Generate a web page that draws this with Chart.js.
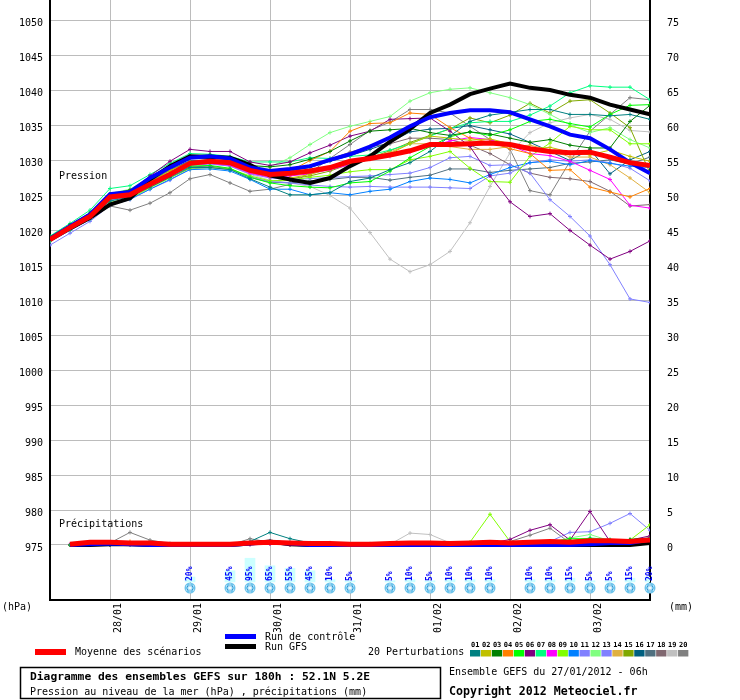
<!DOCTYPE html>
<html><head><meta charset="utf-8">
<script src="https://cdn.jsdelivr.net/npm/chart.js@4"></script>
<style>html,body{margin:0;padding:0;background:#fff;}canvas{display:block;}</style>
</head><body>
<canvas id="c" width="740" height="700"></canvas>
<script>
// ---------- DATA ----------
const dayHours = [18, 42, 66, 90, 114, 138, 162];
const dayLabels = ['28/01', '29/01', '30/01', '31/01', '01/02', '02/02', '03/02'];
const hpaTicks = [975, 980, 985, 990, 995, 1000, 1005, 1010, 1015, 1020, 1025, 1030, 1035, 1040, 1045, 1050];
const mmTicks = [0, 5, 10, 15, 20, 25, 30, 35, 40, 45, 50, 55, 60, 65, 70, 75];
const stepHours = 6;

const meanP = [1018.7,1020.4,1022.0,1024.8,1025.1,1026.6,1028.0,1029.6,1029.9,1029.7,1028.6,1028.0,1028.2,1028.5,1029.0,1029.9,1030.3,1030.8,1031.4,1032.3,1032.3,1032.4,1032.5,1032.3,1031.7,1031.3,1031.1,1031.2,1030.5,1029.7,1029.3];
const ctrlP = [1018.8,1020.6,1022.3,1025.2,1025.5,1027.5,1029.0,1030.4,1030.6,1030.3,1029.0,1028.5,1028.8,1029.2,1030.1,1030.9,1032.0,1033.3,1034.9,1036.2,1036.8,1037.2,1037.2,1036.9,1035.9,1034.9,1033.7,1033.2,1031.6,1029.7,1028.2];
const gfsP  = [1018.7,1020.3,1021.8,1023.7,1024.6,1027.3,1029.2,1030.6,1030.5,1030.4,1029.4,1027.9,1027.3,1026.8,1027.5,1029.2,1030.6,1032.7,1034.5,1036.8,1038.0,1039.5,1040.3,1041.0,1040.4,1040.1,1039.4,1039.0,1038.0,1037.3,1036.6];

const p01 = [1018.6,1020.3,1021.9,1024.2,1024.8,1026.2,1027.6,1029.0,1029.0,1028.7,1027.4,1026.2,1025.1,1025.1,1025.4,1027.0,1027.5,1028.7,1029.7,1031.3,1033.5,1035.6,1036.5,1036.9,1037.3,1037.3,1036.6,1036.6,1036.4,1036.6,1035.9];
const p02 = [1018.9,1020.6,1022.2,1024.8,1025.3,1026.9,1028.6,1029.8,1030.1,1029.7,1028.7,1027.7,1027.5,1028.0,1028.9,1029.6,1030.2,1031.0,1032.4,1033.5,1033.2,1032.9,1033.1,1032.4,1031.6,1031.9,1031.2,1030.8,1031.5,1030.6,1029.9];
const p03 = [1019.1,1020.8,1022.5,1025.2,1025.8,1027.5,1029.2,1030.6,1030.8,1030.5,1029.3,1029.1,1029.4,1030.2,1031.3,1032.8,1034.2,1034.4,1034.6,1034.0,1033.6,1034.1,1033.8,1033.2,1032.6,1033.0,1032.2,1031.8,1031.8,1035.6,1037.9];
const p04 = [1018.8,1020.5,1022.3,1025.0,1025.7,1027.3,1029.0,1030.4,1030.5,1030.1,1028.9,1028.6,1028.5,1030.0,1031.3,1034.2,1035.3,1035.4,1036.8,1036.6,1034.7,1033.2,1032.6,1031.7,1031.0,1028.6,1028.7,1026.2,1025.5,1024.8,1026.0];
const p05 = [1018.7,1020.4,1022.0,1024.5,1025.0,1026.5,1027.9,1029.2,1029.3,1028.9,1027.6,1026.8,1026.4,1026.2,1026.1,1026.8,1027.0,1028.5,1030.4,1032.0,1033.4,1034.1,1033.6,1034.4,1035.6,1035.9,1035.3,1034.8,1036.6,1037.9,1038.0];
const p06 = [1019.0,1020.7,1022.4,1025.1,1025.6,1027.8,1029.9,1031.6,1031.3,1031.3,1029.8,1029.3,1029.8,1031.1,1032.2,1033.5,1034.2,1035.9,1036.0,1036.1,1034.2,1032.0,1027.8,1024.1,1022.0,1022.4,1020.0,1017.9,1015.9,1017.0,1018.5];
const p07 = [1019.2,1021.0,1022.9,1026.0,1026.4,1028.0,1029.6,1031.0,1030.9,1030.6,1029.8,1029.8,1029.8,1030.4,1030.3,1030.6,1030.8,1031.5,1032.4,1033.5,1034.6,1035.4,1035.6,1035.6,1036.5,1037.8,1039.7,1040.7,1040.5,1040.5,1038.7];
const p08 = [1018.8,1020.5,1022.1,1024.6,1025.0,1026.6,1028.1,1029.4,1029.6,1029.3,1028.2,1027.6,1027.8,1028.1,1028.7,1029.4,1030.2,1030.6,1031.2,1032.0,1032.8,1033.3,1033.0,1032.2,1031.0,1030.7,1029.9,1028.6,1027.3,1023.6,1023.2];
const p09 = [1018.5,1020.1,1021.7,1024.0,1024.6,1026.1,1027.5,1028.9,1029.0,1028.8,1027.8,1027.1,1027.2,1027.6,1027.9,1028.4,1028.7,1028.7,1030.1,1030.6,1031.3,1028.9,1027.0,1026.9,1030.6,1032.5,1034.9,1034.4,1034.4,1032.4,1032.4];
const p10 = [1018.4,1020.0,1021.6,1023.8,1024.5,1025.9,1027.3,1028.7,1028.8,1028.5,1027.3,1025.9,1025.9,1025.1,1025.4,1025.1,1025.6,1025.9,1027.0,1027.5,1027.3,1026.8,1028.0,1029.0,1029.7,1029.9,1029.4,1030.0,1029.6,1029.2,1029.0];
const p11 = [1017.9,1019.6,1021.3,1023.6,1024.4,1025.9,1027.2,1028.8,1029.0,1028.7,1027.7,1027.0,1026.8,1026.5,1026.3,1026.2,1026.3,1026.2,1026.2,1026.2,1026.1,1026.0,1027.8,1028.2,1029.7,1030.1,1029.9,1030.1,1029.7,1028.9,1027.1];
const p12 = [1019.0,1020.6,1022.4,1025.3,1025.9,1027.6,1029.3,1030.6,1030.7,1030.4,1029.1,1029.1,1030.4,1032.3,1034.0,1034.9,1035.6,1036.3,1038.5,1039.7,1040.2,1040.4,1039.7,1039.0,1038.0,1036.6,1035.1,1034.0,1034.7,1033.0,1031.8];
const p13 = [1018.6,1020.2,1021.8,1024.3,1024.9,1026.4,1027.9,1029.3,1029.5,1029.2,1028.1,1027.5,1027.3,1027.4,1027.6,1027.7,1027.8,1028.0,1028.2,1029.0,1030.4,1030.6,1029.3,1029.4,1028.2,1024.4,1022.0,1019.2,1015.1,1010.2,1009.7];
const p14 = [1018.7,1020.4,1022.0,1024.6,1025.2,1026.7,1028.3,1029.5,1029.7,1029.4,1028.4,1027.8,1027.9,1028.3,1028.8,1029.6,1030.4,1031.2,1032.4,1032.4,1032.0,1031.6,1031.6,1032.0,1032.2,1031.5,1030.5,1030.5,1029.4,1027.5,1025.4];
const p15 = [1018.8,1020.5,1022.1,1024.7,1025.3,1026.8,1028.4,1029.6,1029.8,1029.5,1028.3,1027.6,1027.4,1027.8,1028.5,1029.5,1030.4,1031.4,1032.6,1033.6,1034.5,1036.1,1035.4,1036.5,1038.2,1036.8,1038.5,1038.7,1036.8,1034.7,1028.2];
const p16 = [1018.9,1020.6,1022.3,1024.9,1025.4,1027.0,1028.6,1029.9,1030.1,1029.9,1028.8,1028.3,1028.5,1029.0,1029.9,1030.7,1031.6,1032.6,1034.1,1034.5,1034.6,1035.0,1034.4,1033.8,1032.6,1031.3,1030.0,1031.6,1028.1,1030.1,1031.3];
const p17 = [1018.6,1020.3,1021.9,1024.4,1024.9,1026.4,1027.8,1029.1,1029.2,1028.8,1027.6,1026.9,1026.8,1027.1,1027.3,1027.6,1027.6,1027.2,1027.6,1027.9,1028.8,1028.8,1028.3,1028.6,1028.8,1029.0,1029.6,1029.8,1030.1,1029.5,1030.5];
const p18 = [1018.9,1020.5,1022.2,1024.9,1025.5,1027.1,1028.7,1030.0,1030.1,1029.8,1028.8,1028.4,1028.7,1029.2,1030.2,1031.2,1032.0,1032.4,1033.2,1033.2,1033.0,1032.2,1031.0,1029.4,1028.2,1027.6,1027.4,1027.0,1025.6,1023.5,1023.7];
const p19 = [1018.7,1020.4,1022.0,1024.5,1025.0,1026.6,1028.0,1029.4,1029.6,1029.2,1028.0,1027.2,1026.8,1026.3,1025.0,1023.2,1019.7,1015.9,1014.1,1015.1,1017.0,1021.1,1026.3,1031.1,1034.0,1035.4,1036.1,1036.6,1035.9,1034.3,1034.1];
const p20 = [1018.5,1020.1,1021.6,1023.5,1022.9,1023.9,1025.4,1027.4,1028.0,1026.8,1025.6,1025.9,1026.6,1028.3,1030.3,1032.3,1034.3,1035.5,1037.3,1037.3,1036.8,1034.9,1033.0,1031.6,1025.7,1025.1,1029.9,1034.2,1036.6,1039.0,1038.7];

// precipitation (mm per 6h), from +6h to +180h
const meanR = [0.1,0.4,0.4,0.3,0.3,0.1,0.1,0.1,0.1,0.3,0.4,0.3,0.2,0.2,0.1,0.1,0.2,0.3,0.3,0.2,0.3,0.4,0.3,0.4,0.5,0.4,0.6,0.6,0.5,0.7];
const ctrlR = [0,0.1,0.2,0.1,0,0,0,0,0,0.2,0.4,0.2,0,0,0,0,0,0,0,0,0,0,0,0,0,0,0.1,0.3,0.3,0.8];
const gfsR  = [0,0,0.1,0.1,0,0,0,0,0,0.2,0.5,0.1,0,0,0,0,0,0,0,0,0,0,0,0,0,0,0,0,0,0.3];
const r01 = [0,0.2,0.1,0.2,0,0,0,0,0,0.5,1.8,0.9,0.3,0.3,0,0,0,0,0,0,0,0,0,0,0.1,0.3,0.6,0.4,0.3,0.6];
const r02 = [0,0.3,0.2,0.3,0.1,0,0,0,0,0.3,0.4,0.3,0,0,0,0,0,0,0,0,0.2,0.3,0.2,0.1,0.2,0.5,0.7,0.5,0.3,0.9];
const r03 = [0,0.2,0.1,0.1,0,0,0,0,0,0.2,0.3,0.2,0,0,0,0,0,0,0,0,0,0.1,0,0,0.2,0.6,0.8,0.6,0.8,1.0];
const r04 = [0,0.4,0.1,0.5,0.2,0,0,0,0,0.2,0.3,0.1,0,0,0,0,0,0,0,0,0,0.2,0.3,0.1,0.2,0.3,0.4,0.3,0.5,0.7];
const r05 = [0,0.1,0.1,0.2,0,0,0,0,0,0.2,0.3,0.2,0,0,0,0,0,0,0,0,0.1,0.2,0.2,0.3,0.4,0.9,0.9,0.7,0.7,0.8];
const r06 = [0,0.1,0.1,0.2,0,0,0,0,0,0.1,0.2,0.1,0,0,0,0,0,0,0,0,0,0.2,0.8,2.1,2.9,0.7,4.8,0.5,0.7,1.3];
const r07 = [0,0.2,0.2,0.2,0,0,0,0,0,0.2,0.4,0.2,0,0,0,0,0,0,0,0,0,0,0,0.1,0.2,0.6,1.0,0.8,0.4,0.6];
const r08 = [0.1,0.2,0.1,0.1,0,0,0,0,0,0.1,0.2,0.1,0,0,0,0,0,0,0,0,0,0.2,0.3,0.2,0.3,0.4,0.5,0.3,0.3,0.5];
const r09 = [0,0.2,0.2,0.2,0,0,0,0,0,0.2,0.3,0.2,0,0,0,0,0,0,0,0,0.4,4.4,0.5,0.3,0.2,0.4,0.6,0.5,0.7,2.9];
const r10 = [0,0.1,0.1,0.1,0,0,0,0,0,0.3,0.6,0.3,0.1,0,0,0,0,0,0,0,0,0.1,0,0,0.1,0.2,0.3,0.2,0.3,0.5];
const r11 = [0,0.2,0.1,0.2,0,0,0,0,0,0.2,0.3,0.2,0,0,0,0,0,0,0,0,0.1,0.3,0.2,0.1,0.2,0.5,0.7,0.5,0.4,0.6];
const r12 = [0,0.1,0.2,0.2,0,0,0,0,0,0.2,0.4,0.2,0,0,0,0,0,0,0,0,0,0.1,0.1,0.2,0.4,1.0,1.5,0.6,0.5,0.8];
const r13 = [0,0.1,0.1,0.1,0,0,0,0,0,0.1,0.2,0.1,0,0,0,0,0,0,0,0,0,0.1,0.1,0.1,0.5,1.8,1.9,3.1,4.5,2.1];
const r14 = [0,0.3,0.2,0.3,0.1,0,0,0,0,0.2,0.3,0.2,0,0,0,0,0,0,0,0,0,0.1,0.1,0.1,0.2,0.3,0.4,0.5,0.4,0.6];
const r15 = [0,0.2,0.1,0.2,0,0,0,0,0,0.2,0.3,0.2,0,0,0,0,0,0,0,0,0,0.1,0.2,0.2,0.3,0.5,0.6,0.4,0.4,0.9];
const r16 = [0,0.1,0.1,0.1,0,0,0,0,0,0.2,0.4,0.2,0,0,0,0,0,0,0,0,0,0,0.1,0.1,0.2,0.4,0.5,0.3,0.3,0.6];
const r17 = [0,0.1,0.1,0.2,0,0,0,0,0,0.3,0.3,0.2,0,0,0,0,0,0,0,0,0,0,0,0.1,0.1,0.3,0.2,0.2,0.2,0.4];
const r18 = [0,0.2,0.1,0.2,0,0,0,0,0,0.2,0.3,0.1,0,0,0,0,0,0,0,0,0,0.1,0.1,0.1,0.2,0.2,0.3,0.2,0.3,0.5];
const r19 = [0,0.1,0.1,0.1,0,0,0,0,0,0.1,0.2,0,0,0,0,0.2,0.1,1.7,1.5,0.3,0,0,0,0,0,0.1,0.3,0.2,0.2,0.4];
const r20 = [0,0.2,0.3,1.8,0.7,0.2,0,0,0,0.9,0.4,0.1,0,0,0,0,0,0,0,0,0,0.2,0.5,1.4,2.4,0.3,0.2,0.1,0.2,0.3];

const memberColors = ['#008080','#c0c000','#008000','#ff8000','#00ff00','#800080','#00ff80','#ff00ff','#80ff00','#0080ff','#8080ff','#80ff80','#8080ff','#e0b040','#80a800','#006080','#507080','#806870','#c0c0c0','#808080'];
const memberP = [p01,p02,p03,p04,p05,p06,p07,p08,p09,p10,p11,p12,p13,p14,p15,p16,p17,p18,p19,p20];
const memberR = [r01,r02,r03,r04,r05,r06,r07,r08,r09,r10,r11,r12,r13,r14,r15,r16,r17,r18,r19,r20];

const snowHours = [42,54,60,66,72,78,84,90,102,108,114,120,126,132,144,150,156,162,168,174,180];
const snowPct   = [20,45,95,65,55,45,10,5,5,10,5,10,10,10,10,10,15,5,5,15,20];

// ---------- BUILD ----------
const FONT = 'DejaVu Sans Mono';
const hpaMin = 967.13, hpaMax = 1052.97;
const toPts = (arr, first) => arr.map((v, i) => ({x: (i + first) * stepHours, y: v}));

const datasets = [];
function thick(data, color, w, axis) {
  return {data, borderColor: color, backgroundColor: color, borderWidth: w, pointRadius: 0, yAxisID: axis, tension: 0, fill: false};
}
datasets.push(thick(toPts(meanP, 0), '#ff0000', 5, 'y'));
datasets.push(thick(toPts(meanR, 1), '#ff0000', 5, 'yR'));
datasets.push(thick(toPts(ctrlP, 0), '#0000ff', 4, 'y'));
datasets.push(thick(toPts(ctrlR, 1), '#0000ff', 4, 'yR'));
datasets.push(thick(toPts(gfsP, 0), '#000000', 4, 'y'));
datasets.push(thick(toPts(gfsR, 1), '#000000', 4, 'yR'));
memberP.forEach((arr, k) => {
  const c = memberColors[k];
  const common = {borderColor: c, backgroundColor: c, borderWidth: 1, pointStyle: 'cross', pointRadius: 2, pointBorderWidth: 1, pointBorderColor: c, tension: 0, fill: false};
  datasets.push(Object.assign({data: toPts(arr, 0), yAxisID: 'y'}, common));
  datasets.push(Object.assign({data: toPts(memberR[k], 1), yAxisID: 'yR'}, common));
});
datasets.push({type: 'bar', data: snowHours.map((h, i) => ({x: h, y: snowPct[i]})), backgroundColor: '#ccffff', borderWidth: 0, barThickness: 10, grouped: false, yAxisID: 'yS'});

function drawFlake(ctx, cx, cy) {
  ctx.save();
  ctx.beginPath(); ctx.arc(cx, cy, 5.5, 0, Math.PI * 2);
  ctx.fillStyle = '#6ec4ec'; ctx.fill();
  ctx.strokeStyle = '#ffffff'; ctx.lineWidth = 1;
  for (let k = 0; k < 3; k++) {
    const a = Math.PI / 2 + k * Math.PI / 3;
    ctx.beginPath();
    ctx.moveTo(cx + Math.cos(a) * 4.5, cy + Math.sin(a) * 4.5);
    ctx.lineTo(cx - Math.cos(a) * 4.5, cy - Math.sin(a) * 4.5);
    ctx.stroke();
  }
  ctx.fillStyle = '#3a8fd0';
  [[-2.5,-1.5],[2.5,-1.5],[-2.5,1.5],[2.5,1.5],[0,-3],[0,3]].forEach(([dx,dy]) => ctx.fillRect(cx+dx-0.5, cy+dy-0.5, 1, 1));
  ctx.restore();
}

const decor = {
  id: 'decor',
  afterDatasetsDraw(chart) {
    const ctx = chart.ctx, xs = chart.scales.x, ys = chart.scales.yS;
    const base = ys.getPixelForValue(0);
    snowHours.forEach((h, i) => {
      const px = xs.getPixelForValue(h);
      drawFlake(ctx, px, base + 6);
      ctx.save();
      ctx.translate(px, base - 1);
      ctx.rotate(-Math.PI / 2);
      ctx.font = 'bold 8px "' + FONT + '"';
      ctx.fillStyle = '#0000ff';
      ctx.textAlign = 'left'; ctx.textBaseline = 'middle';
      ctx.fillText(snowPct[i] + '%', 0, 0);
      ctx.restore();
    });
  },
  afterDraw(chart) {
    const ctx = chart.ctx;
    ctx.save();
    ctx.fillStyle = '#000'; ctx.textBaseline = 'middle'; ctx.textAlign = 'left';
    ctx.font = '10px "' + FONT + '"';
    ctx.fillText('Pression', 59, 176);
    ctx.fillText('Précipitations', 59, 524);
    ctx.fillText('(hPa)', 2, 607);
    ctx.fillText('(mm)', 669, 607);
    // legend
    ctx.fillStyle = '#ff0000'; ctx.fillRect(35, 649, 31, 6);
    ctx.fillStyle = '#0000ff'; ctx.fillRect(225, 634, 31, 5);
    ctx.fillStyle = '#000000'; ctx.fillRect(225, 644, 31, 5);
    ctx.fillStyle = '#000';
    ctx.fillText('Moyenne des scénarios', 75, 652);
    ctx.fillText('Run de contrôle', 265, 637);
    ctx.fillText('Run GFS', 265, 647);
    ctx.fillText('20 Perturbations', 368, 652);
    memberColors.forEach((c, k) => {
      const bx = 470 + k * 10.95;
      ctx.fillStyle = c; ctx.fillRect(bx, 650, 10.3, 6.5);
      ctx.fillStyle = '#000'; ctx.font = 'bold 7px "' + FONT + '"'; ctx.textAlign = 'center';
      ctx.fillText(String(k + 1).padStart(2, '0'), bx + 5.2, 645);
    });
    // title box
    ctx.textAlign = 'left';
    ctx.strokeStyle = '#000'; ctx.lineWidth = 1.5;
    ctx.strokeRect(20.5, 667.5, 420, 31);
    ctx.fillStyle = '#000';
    ctx.font = 'bold 11.3px "' + FONT + '"';
    ctx.fillText('Diagramme des ensembles GEFS sur 180h : 52.1N 5.2E', 30, 677);
    ctx.font = '10px "' + FONT + '"';
    ctx.fillText('Pression au niveau de la mer (hPa) , précipitations (mm)', 30, 692);
    ctx.fillText('Ensemble GEFS du 27/01/2012 - 06h', 449, 672);
    ctx.font = 'bold 11.6px "' + FONT + '"';
    ctx.fillText('Copyright 2012 Meteociel.fr', 449, 692);
    ctx.restore();
  }
};

const tickFont = {family: FONT, size: 10};
new Chart(document.getElementById('c'), {
  type: 'line',
  data: {datasets},
  options: {
    responsive: false, animation: false, devicePixelRatio: 1,
    layout: {padding: 0, autoPadding: false},
    plugins: {legend: {display: false}, tooltip: {enabled: false}},
    scales: {
      x: {
        type: 'linear', min: 0, max: 180, offset: false,
        afterBuildTicks: s => { s.ticks = dayHours.map(v => ({value: v})); },
        afterFit: s => { s.height = 100; s.paddingLeft = 0; s.paddingRight = 0; },
        ticks: {autoSkip: false, minRotation: 90, maxRotation: 90, padding: 3, labelOffset: 8, color: '#000', font: tickFont,
                callback: v => dayLabels[dayHours.indexOf(v)]},
        grid: {color: '#bcbcbc', lineWidth: 1, drawTicks: false, offset: false},
        border: {color: '#000', width: 2}
      },
      y: {
        position: 'left', min: hpaMin, max: hpaMax,
        afterBuildTicks: s => { s.ticks = hpaTicks.map(v => ({value: v})); },
        afterFit: s => { s.width = 50; s.paddingTop = 0; s.paddingBottom = 0; },
        ticks: {padding: 7, labelOffset: 3, color: '#000', font: tickFont, callback: v => String(v)},
        grid: {color: '#bcbcbc', lineWidth: 1, drawTicks: false},
        border: {color: '#000', width: 2}
      },
      yR: {
        position: 'right', min: hpaMin - 975, max: hpaMax - 975,
        afterBuildTicks: s => { s.ticks = mmTicks.map(v => ({value: v})); },
        afterFit: s => { s.width = 90; s.paddingTop = 0; s.paddingBottom = 0; },
        ticks: {padding: 17, labelOffset: 3, color: '#000', font: tickFont, callback: v => String(v)},
        grid: {display: false, drawTicks: false},
        border: {color: '#000', width: 2}
      },
      yS: {display: false, min: -72, max: 2328}
    }
  },
  plugins: [decor]
});
</script>
</body></html>
